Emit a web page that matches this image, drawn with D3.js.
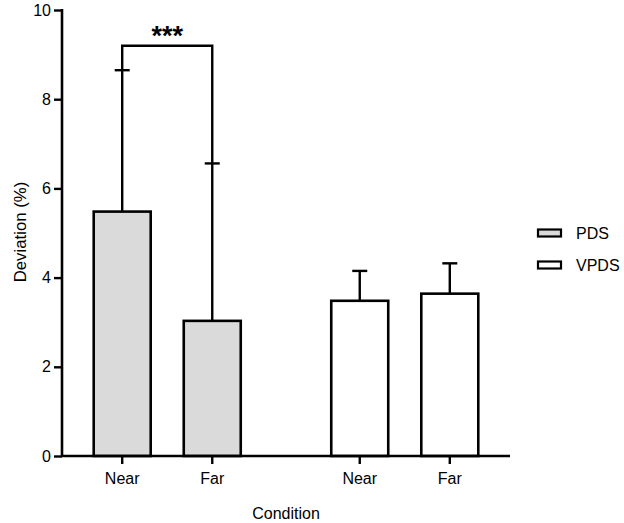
<!DOCTYPE html>
<html><head><meta charset="utf-8">
<script src="https://cdn.jsdelivr.net/npm/d3@7"></script>
<style>body{margin:0;background:#fff}svg{display:block}text{font-family:"Liberation Sans",Arial,sans-serif;fill:#000}</style>
</head><body><svg id="c" width="624" height="523"></svg>
<script>
const groups = ["PDS","VPDS"];
const conditions = ["Near","Far"];
const means = [5.48, 3.03, 3.48, 3.64];
const errors = [3.17, 3.53, 0.67, 0.68];
const barGroups = ["PDS","PDS","VPDS","VPDS"];
const barConds = ["Near","Far","Near","Far"];
const yTicks = [0,2,4,6,8,10];
const fills = {PDS:"#dadada", VPDS:"#ffffff"};

const svg = d3.select("#c");
const x0 = 62, x1 = 510, yTop = 10, yBot = 456;
const y = d3.scaleLinear().domain([0,10]).range([yBot,yTop]);
const xg = d3.scaleBand().domain(groups).range([x0,x1]).paddingInner(0.381).paddingOuter(0.1335);
const xc = d3.scaleBand().domain(conditions).range([0,xg.bandwidth()]).paddingInner(0.367).paddingOuter(0);
const data = means.map((m,i)=>({group:barGroups[i], cond:barConds[i], mean:m, err:errors[i]}));
const bx = d=>xg(d.group)+xc(d.cond);
const cx = d=>bx(d)+xc.bandwidth()/2;

// bars
svg.selectAll("rect.bar").data(data).join("rect")
  .attr("x",bx).attr("y",d=>y(d.mean))
  .attr("width",xc.bandwidth()).attr("height",d=>y(0)-y(d.mean))
  .attr("fill",d=>fills[d.group]).attr("stroke","#000").attr("stroke-width",2.6);

// error bars
svg.selectAll("line.eb").data(data).join("line")
  .attr("x1",cx).attr("x2",cx).attr("y1",d=>y(d.mean)).attr("y2",d=>y(d.mean+d.err))
  .attr("stroke","#000").attr("stroke-width",2.4);
svg.selectAll("line.cap").data(data).join("line")
  .attr("x1",d=>cx(d)-7.5).attr("x2",d=>cx(d)+7.5)
  .attr("y1",d=>y(d.mean+d.err)).attr("y2",d=>y(d.mean+d.err))
  .attr("stroke","#000").attr("stroke-width",2.4);

// significance bracket
const sigY = 9.2;
const a = data[0], b = data[1];
svg.append("path")
  .attr("d",`M${cx(a)},${y(a.mean+a.err)}V${y(sigY)}H${cx(b)}V${y(b.mean+b.err)}`)
  .attr("fill","none").attr("stroke","#000").attr("stroke-width",2.4);
svg.append("text").attr("x",(cx(a)+cx(b))/2).attr("y",y(sigY)-1)
  .attr("text-anchor","middle").attr("font-size",27).attr("font-weight","bold").text("***");

// axes
const yAxis = d3.axisLeft(y).tickValues(yTicks).tickSize(8).tickPadding(3);
const gy = svg.append("g").attr("transform",`translate(${x0},0)`).call(yAxis);
gy.select(".domain").remove();
gy.append("line").attr("x1",0).attr("x2",0).attr("y1",yTop-1).attr("y2",yBot+1).attr("stroke","#000").attr("stroke-width",2.6);
gy.selectAll(".tick line").attr("stroke-width",2.4);
gy.selectAll(".tick text").attr("font-size",16).style("font-family","Liberation Sans, Arial, sans-serif");

const gx = svg.append("g");
gx.append("line").attr("x1",x0-1).attr("x2",x1).attr("y1",yBot).attr("y2",yBot).attr("stroke","#000").attr("stroke-width",2.6);
gx.selectAll("line.xt").data(data).join("line")
  .attr("x1",cx).attr("x2",cx).attr("y1",yBot).attr("y2",yBot+8).attr("stroke","#000").attr("stroke-width",2.4);
gx.selectAll("text.xl").data(data).join("text")
  .attr("x",cx).attr("y",yBot+28).attr("text-anchor","middle").attr("font-size",16).text(d=>d.cond);

svg.append("text").attr("x",286).attr("y",519).attr("text-anchor","middle").attr("font-size",16).text("Condition");
svg.append("text").attr("transform","translate(26,232) rotate(-90)").attr("text-anchor","middle").attr("font-size",16.8).text("Deviation (%)");

// legend
const lg = svg.append("g").attr("transform","translate(538,0)");
groups.forEach((g,i)=>{
  const yy = 233 + i*32;
  lg.append("rect").attr("x",0).attr("y",yy-3.5).attr("width",23).attr("height",7)
    .attr("fill",fills[g]).attr("stroke","#000").attr("stroke-width",2.2);
  lg.append("text").attr("x",38).attr("y",yy+6).attr("font-size",16).text(g);
});
</script></body></html>
